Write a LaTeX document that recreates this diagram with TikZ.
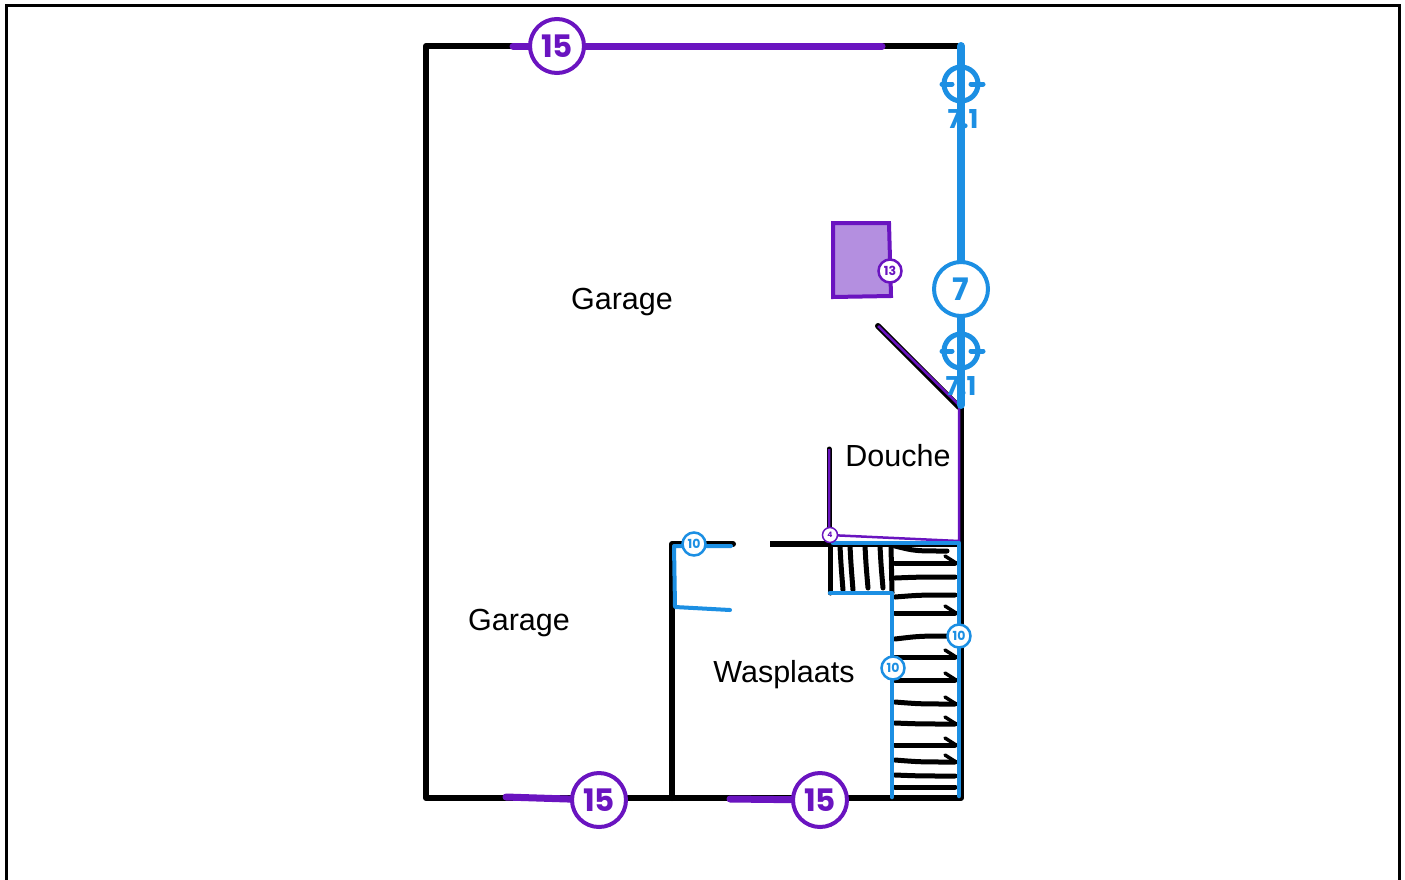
\documentclass[tikz,border=0pt]{standalone}
\usepackage{fontspec}
\setmainfont{Liberation Sans}
\newfontfamily\badgefont{Poppins}
\definecolor{wirepurple}{HTML}{6A14C0}
\definecolor{wireblue}{HTML}{1C8FE3}
\definecolor{boxpurple}{HTML}{B48FE0}
\tikzset{
  wall/.style={line width=6pt,black,line cap=round,line join=round},
  scribble/.style={line width=5pt,black,line cap=round},
  bigbadge/.style={circle,draw=#1,text=#1,fill=white,line width=4pt,minimum size=54pt,inner sep=0pt,font=\badgefont\bfseries\fontsize{31}{31}\selectfont},
  smallbadge/.style={circle,draw=#1,text=#1,fill=white,line width=2.5pt,minimum size=23pt,inner sep=0pt,font=\badgefont\bfseries\fontsize{12.5}{12.5}\selectfont},
  room/.style={font=\fontsize{30.5}{30.5}\selectfont,inner sep=0pt},
  sensorlabel/.style={text=wireblue,inner sep=0pt,font=\badgefont\bfseries\fontsize{26}{26}\selectfont}
}
\begin{document}
\begin{tikzpicture}[x=1pt,y=-1pt]
\useasboundingbox (0,0) rectangle (1405,879);
\fill[white] (0,0) rectangle (1405,879);
\draw[line width=3pt] (6,885)--(6,5)--(1399,5)--(1399,885);
% walls
\draw[wall] (961,46)--(426,46)--(426,798)--(961,798)--(961,405);
\draw[wall] (672,798)--(672,544)--(733,544);
\draw[wall,line cap=butt] (770,544)--(961,544);
\draw[wall,line width=5pt] (829,449)--(829,544);
\draw[wall] (878,326)--(959,407);
% stairs
\draw[wall,line width=5pt] (830,544)--(830,593);
\foreach \x/\y in {842/590,852/590,867/588,882/588}
{
    \draw[scribble] (\x-2,546) .. controls (\x-1,565) .. (\x+1,\y);
}
\draw[scribble] (891,546)--(892,593);
\draw[scribble] (895,546) .. controls (915,551) .. (947,551);
\foreach \y/\d in {563/0,577/1,595/2,613/0,636/3,657/0,680/0,704/-2,724/-1,745/0,762/-2,776/-1,787/0}
{
    \draw[scribble] (895,\y+\d) .. controls (920,\y) .. (955,\y);
}
\foreach \y in {563,613,657,680,704,724,745,762}
{
    \draw[scribble,line width=3.5pt] (945,\y-7)--(956,\y);
}
% purple wires
\draw[line width=2.5pt,wirepurple] (829,449)--(829,535)--(959,541)--(959,405)--(878,326);
\draw[line width=7pt,wirepurple,line cap=round] (513,46)--(882,46);
\draw[line width=7pt,wirepurple,line cap=round] (506,797)--(599,800);
\draw[line width=7pt,wirepurple,line cap=round] (730,799)--(820,800);
% blue wires
\draw[line width=8pt,wireblue,line cap=round] (961,46)--(961,405);
\draw[line width=4pt,wireblue,line cap=round,line join=round] (731,546)--(674,546)--(675,607)--(730,610);
\draw[line width=4.5pt,wireblue,line cap=round,line join=round] (833,543)--(959,543)--(959,796);
\draw[line width=4.5pt,wireblue,line cap=round,line join=round] (830,593)--(892,593)--(892,797);
% sensors
\foreach \y/\n in {84/top,351/low}
{
    \draw[line width=5pt,wireblue] (961,\y) circle (17);
    \draw[line width=5pt,wireblue,line cap=round] (942,\y)--(952,\y) (971,\y)--(983,\y);
}
\node[sensorlabel] (sensortop) at (963,119) {7.1};
\node[sensorlabel] (sensorlow) at (961,386) {7.1};
\draw[line width=8pt,wireblue] (961,108)--(961,130) (961,375)--(961,400);
% box
\draw[line width=4pt,wirepurple,fill=boxpurple] (833,223)--(889,223)--(891,296)--(833,297)--cycle;
% badges
\node[bigbadge=wirepurple] (topfifteen) at (557,46) {15};
\node[bigbadge=wirepurple] (leftfifteen) at (599,800) {15};
\node[bigbadge=wirepurple] (rightfifteen) at (820,800) {15};
\node[bigbadge=wireblue] (seven) at (961,289) {7};
\node[smallbadge=wirepurple] (thirteen) at (890,271) {13};
\node[smallbadge=wirepurple,minimum size=15pt,line width=1.5pt,font=\badgefont\bfseries\fontsize{7.5}{7.5}\selectfont] (four) at (830,535) {4};
\node[smallbadge=wireblue] (tendoor) at (694,544) {10};
\node[smallbadge=wireblue] (tenright) at (959,636) {10};
\node[smallbadge=wireblue] (tenstair) at (893,668) {10};
% rooms
\node[room] (garagetop) at (622,302) {Garage};
\node[room] (garagelow) at (519,623) {Garage};
\node[room] (wasplaats) at (784,675) {Wasplaats};
\node[room] (douche) at (898,456) {Douche};
\end{tikzpicture}
\end{document}
